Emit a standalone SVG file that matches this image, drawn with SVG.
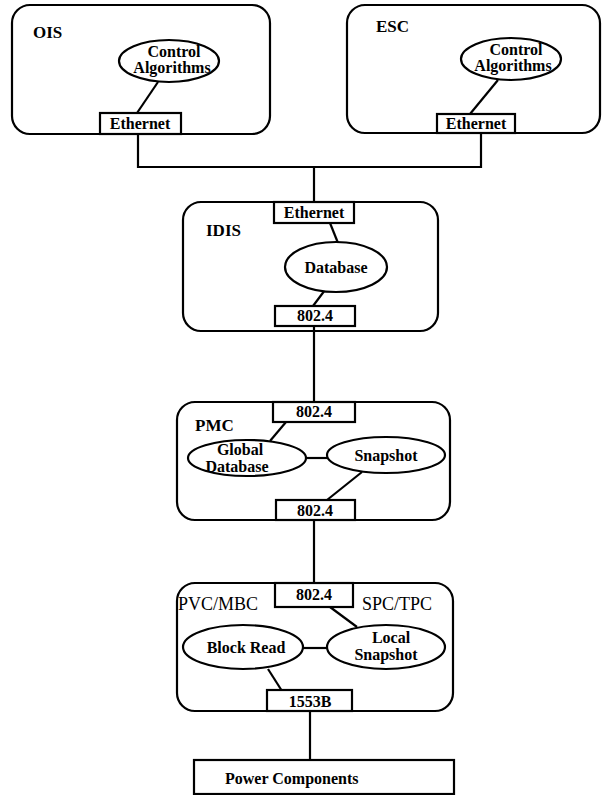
<svg xmlns="http://www.w3.org/2000/svg" width="603" height="795" viewBox="0 0 603 795">
<style>
.box{fill:none;stroke:#000;stroke-width:2.2}
.port{fill:#fff;stroke:#000;stroke-width:2.2}
.ell{fill:#fff;stroke:#000;stroke-width:2.2}
.ln{fill:none;stroke:#000;stroke-width:2.2}
text{font-family:"Liberation Serif","Times New Roman",serif;font-weight:bold;fill:#000;font-size:16px}
.c{text-anchor:middle}
.lab{font-size:17px}
.pl{font-size:18px;font-weight:normal}
</style>
<rect width="603" height="795" fill="#fff"/>
<g id="connectors">
<polyline class="ln" points="138,134 138,167 481,167 481,133"/>
<line class="ln" x1="314" y1="167" x2="314" y2="202"/>
<line class="ln" x1="314" y1="326" x2="314" y2="402"/>
<line class="ln" x1="314" y1="520" x2="314" y2="583"/>
<line class="ln" x1="310" y1="711" x2="310" y2="760"/>
</g>
<g id="OIS">
<rect class="box" x="12" y="5" width="258" height="129" rx="18"/>
<text x="33" y="38" class="lab">OIS</text>
<line class="ln" x1="158" y1="82" x2="137" y2="113"/>
<ellipse class="ell" cx="169" cy="61" rx="50" ry="21"/>
<text x="174" y="57" class="c">Control</text>
<text x="172" y="73" class="c">Algorithms</text>
<rect class="port" x="100" y="113" width="81" height="21"/>
<text x="140" y="129" class="c">Ethernet</text>
</g>
<g id="ESC">
<rect class="box" x="347" y="5" width="253" height="128" rx="18"/>
<text x="376" y="32" class="lab">ESC</text>
<line class="ln" x1="498" y1="80" x2="470" y2="114"/>
<ellipse class="ell" cx="511" cy="59" rx="50" ry="21"/>
<text x="516" y="55" class="c">Control</text>
<text x="513" y="71" class="c">Algorithms</text>
<rect class="port" x="437" y="114" width="78" height="19"/>
<text x="476" y="129" class="c">Ethernet</text>
</g>
<g id="IDIS">
<rect class="box" x="183" y="202" width="255" height="129" rx="18"/>
<text x="206" y="236" class="lab">IDIS</text>
<line class="ln" x1="330" y1="223" x2="338" y2="243"/>
<line class="ln" x1="325" y1="290" x2="313" y2="306"/>
<ellipse class="ell" cx="336" cy="267" rx="51" ry="25"/>
<text x="336" y="273" class="c" font-size="18">Database</text>
<rect class="port" x="274" y="202" width="80" height="21"/>
<text x="314" y="218" class="c">Ethernet</text>
<rect class="port" x="275" y="306" width="80" height="20"/>
<text x="315" y="321" class="c">802.4</text>
</g>
<g id="PMC">
<rect class="box" x="177" y="402" width="273" height="118" rx="18"/>
<text x="195" y="431" class="lab">PMC</text>
<line class="ln" x1="286" y1="422" x2="270" y2="441"/>
<line class="ln" x1="305" y1="458" x2="328" y2="458"/>
<line class="ln" x1="362" y1="472" x2="327" y2="500"/>
<ellipse class="ell" cx="247" cy="458" rx="59" ry="18"/>
<text x="240" y="455" class="c" font-size="17">Global</text>
<text x="237" y="472" class="c" font-size="17">Database</text>
<ellipse class="ell" cx="386" cy="455" rx="59" ry="18"/>
<text x="386" y="461" class="c" font-size="18">Snapshot</text>
<rect class="port" x="273" y="402" width="82" height="20"/>
<text x="314" y="417" class="c">802.4</text>
<rect class="port" x="276" y="500" width="79" height="20"/>
<text x="315" y="516" class="c">802.4</text>
</g>
<g id="PVC_MBC">
<rect class="box" x="177" y="583" width="276" height="128" rx="18"/>
<text x="178" y="610" class="pl">PVC/MBC</text>
<text x="362" y="610" class="pl">SPC/TPC</text>
<line class="ln" x1="330" y1="607" x2="357" y2="627"/>
<line class="ln" x1="303" y1="648" x2="327" y2="648"/>
<line class="ln" x1="268" y1="669" x2="282" y2="691"/>
<ellipse class="ell" cx="243" cy="647" rx="60" ry="22"/>
<text x="246" y="653" class="c" font-size="18">Block Read</text>
<ellipse class="ell" cx="386" cy="647" rx="59" ry="22"/>
<text x="391" y="643" class="c" font-size="17">Local</text>
<text x="386" y="660" class="c" font-size="17">Snapshot</text>
<rect class="port" x="275" y="583" width="78" height="24"/>
<text x="314" y="600" class="c">802.4</text>
<rect class="port" x="267" y="690" width="85" height="21"/>
<text x="310" y="707" class="c" font-size="17">1553B</text>
</g>
<g id="Power_Components">
<rect class="port" x="194" y="760" width="260" height="34"/>
<text x="225" y="784" font-size="18">Power Components</text>
</g>
</svg>
